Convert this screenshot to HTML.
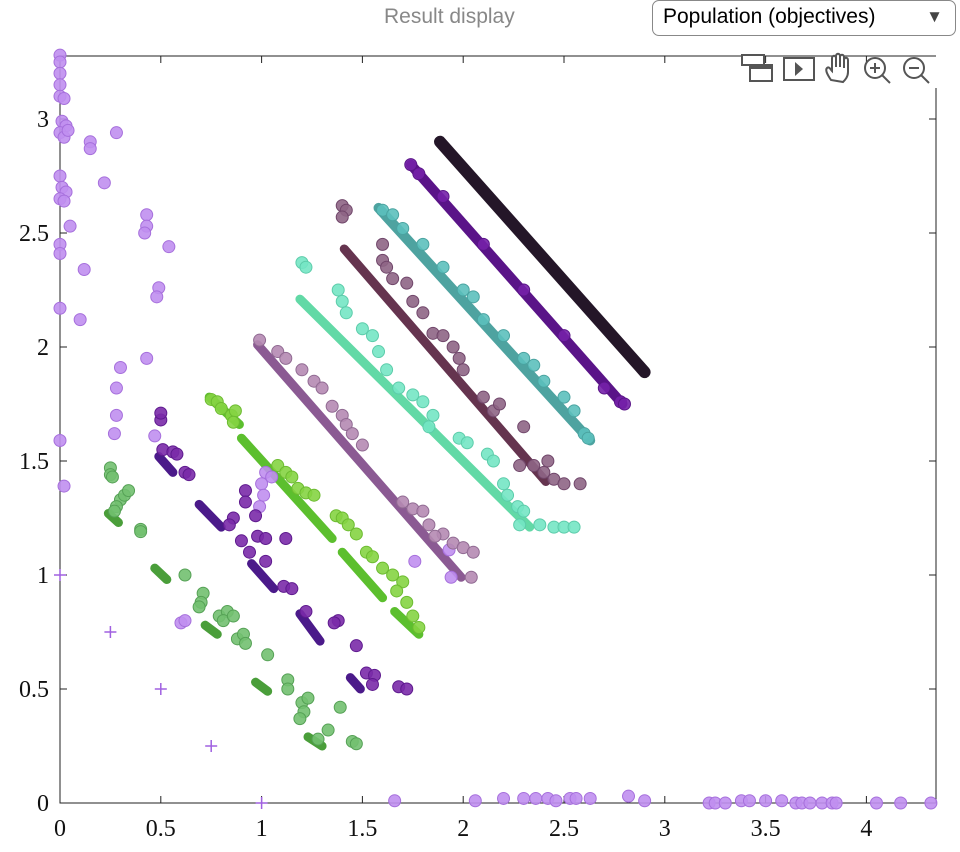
<!DOCTYPE html>
<html><head><meta charset="utf-8"><style>
body{margin:0;background:#fff;width:960px;height:852px;overflow:hidden;font-family:"Liberation Sans",sans-serif}
#title{position:absolute;left:384px;top:5px;font-size:21px;color:#888}
#dd{position:absolute;left:652px;top:0;width:304px;height:36px;border:1px solid #888;border-radius:7px;box-sizing:border-box;font-size:21px;padding:4px 0 0 10px;color:#000}
#dd span{position:absolute;right:12px;top:6px;font-size:17px;color:#444}
</style></head><body>
<div id="title">Result display</div>
<div id="dd">Population (objectives)<span>▼</span></div>
<svg id="chart" width="960" height="852" style="position:absolute;left:0;top:0"></svg>
<script>
const xTicks=[0,0.5,1,1.5,2,2.5,3,3.5,4];
const xTickLabels=["0","0.5","1","1.5","2","2.5","3","3.5","4"];
const yTicks=[0,0.5,1,1.5,2,2.5,3];
const yTickLabels=["0","0.5","1","1.5","2","2.5","3"];
// line series [x0,y0,x1,y1]
const lineBlack=[[1.885,2.90,2.90,1.89]];
const lineViolet=[[1.74,2.80,2.79,1.75]];
const lineTeal=[[1.58,2.61,2.63,1.59]];
const lineMaroon=[[1.41,2.43,2.41,1.41]];
const lineMint=[[1.19,2.21,2.33,1.21]];
const lineMauve=[[0.98,2.01,1.99,0.99]];
const lineLime=[[0.74,1.78,0.89,1.66],[0.90,1.60,1.35,1.16],[1.40,1.10,1.60,0.90],[1.66,0.84,1.78,0.74]];
const lineIndigo=[[0.49,1.52,0.56,1.45],[0.69,1.31,0.80,1.21],[0.95,1.05,1.06,0.94],[1.19,0.83,1.29,0.71],[1.44,0.55,1.49,0.50]];
const lineGreen=[[0.24,1.27,0.29,1.23],[0.47,1.03,0.53,0.98],[0.72,0.78,0.78,0.74],[0.97,0.53,1.03,0.49],[1.23,0.29,1.30,0.25]];
const ptsLight=[[0,3.28],[0,3.25],[0,3.2],[0,3.15],[0,3.1],[0.02,3.09],[0.01,2.99],[0.03,2.97],[0,2.94],[0.02,2.92],[0.04,2.95],[0,2.75],[0.01,2.7],[0.03,2.68],[0,2.65],[0.02,2.64],[0.05,2.53],[0,2.45],[0,2.41],[0.12,2.34],[0.15,2.9],[0.15,2.87],[0.28,2.94],[0.22,2.72],[0.43,2.58],[0.43,2.53],[0.42,2.5],[0.54,2.44],[0.49,2.26],[0.48,2.22],[0.1,2.12],[0,2.17],[0.3,1.91],[0.28,1.82],[0.43,1.95],[0.28,1.7],[0.27,1.62],[0.47,1.61],[0,1.59],[0.02,1.39],[1.02,1.45],[1.05,1.43],[1.0,1.40],[1.01,1.35],[0.99,1.3],[1.76,1.06],[1.93,1.11],[1.94,0.99],[0.6,0.79],[0.62,0.8],[1.66,0.01],[2.06,0.01],[2.2,0.02],[2.3,0.02],[2.36,0.02],[2.42,0.02],[2.46,0.01],[2.53,0.02],[2.56,0.02],[2.63,0.02],[2.82,0.03],[2.9,0.01],[3.22,0],[3.25,0],[3.3,0],[3.38,0.01],[3.42,0.01],[3.5,0.01],[3.58,0.01],[3.65,0],[3.68,0],[3.72,0],[3.78,0],[3.83,0],[3.85,0],[4.05,0],[4.17,0],[4.32,0]];
const ptsPlus=[[0,1],[0.25,0.75],[0.5,0.5],[0.75,0.25],[1,0]];
const ptsLime=[[0.75,1.77],[0.78,1.76],[0.8,1.73],[0.85,1.7],[0.87,1.72],[0.86,1.67],[1.08,1.48],[1.12,1.45],[1.15,1.43],[1.18,1.38],[1.22,1.36],[1.26,1.35],[1.37,1.26],[1.4,1.25],[1.43,1.22],[1.47,1.18],[1.52,1.1],[1.55,1.08],[1.6,1.03],[1.65,1.0],[1.7,0.97],[1.67,0.93],[1.72,0.88],[1.75,0.82],[1.78,0.77]];
const ptsIndigo=[[0.5,1.68],[0.5,1.71],[0.51,1.55],[0.56,1.54],[0.58,1.53],[0.62,1.45],[0.64,1.44],[0.92,1.37],[0.92,1.32],[0.97,1.26],[0.86,1.25],[0.84,1.22],[0.9,1.15],[0.98,1.17],[1.02,1.16],[1.12,1.16],[0.94,1.1],[1.02,1.06],[1.11,0.95],[1.15,0.94],[1.22,0.84],[1.38,0.8],[1.36,0.79],[1.47,0.69],[1.52,0.57],[1.56,0.56],[1.55,0.52],[1.68,0.51],[1.72,0.5]];
const ptsGreen=[[0.25,1.47],[0.25,1.44],[0.26,1.43],[0.3,1.33],[0.32,1.35],[0.34,1.37],[0.28,1.3],[0.27,1.28],[0.4,1.2],[0.4,1.19],[0.62,1.0],[0.71,0.92],[0.7,0.88],[0.69,0.86],[0.79,0.82],[0.83,0.84],[0.81,0.8],[0.86,0.82],[0.88,0.72],[0.91,0.74],[0.92,0.7],[1.03,0.65],[1.13,0.54],[1.13,0.5],[1.2,0.44],[1.23,0.46],[1.21,0.4],[1.19,0.37],[1.33,0.32],[1.39,0.42],[1.45,0.27],[1.47,0.26],[1.28,0.28]];
const ptsMauve=[[0.99,2.03],[1.08,1.98],[1.12,1.95],[1.2,1.9],[1.26,1.85],[1.3,1.82],[1.35,1.74],[1.4,1.7],[1.42,1.66],[1.45,1.62],[1.5,1.57],[1.7,1.32],[1.75,1.29],[1.8,1.28],[1.83,1.22],[1.9,1.18],[1.95,1.14],[2.0,1.12],[2.05,1.1],[1.86,1.17],[2.04,0.99]];
const ptsMint=[[1.2,2.37],[1.22,2.35],[1.38,2.25],[1.4,2.2],[1.42,2.15],[1.5,2.08],[1.55,2.05],[1.58,1.98],[1.62,1.9],[1.68,1.82],[1.75,1.79],[1.8,1.76],[1.85,1.7],[1.83,1.65],[1.98,1.6],[2.02,1.58],[2.12,1.53],[2.15,1.5],[2.2,1.4],[2.22,1.35],[2.27,1.3],[2.3,1.28],[2.28,1.22],[2.38,1.22],[2.45,1.21],[2.5,1.21],[2.55,1.21]];
const ptsMaroon=[[1.4,2.62],[1.42,2.6],[1.4,2.57],[1.6,2.45],[1.6,2.38],[1.62,2.35],[1.65,2.3],[1.72,2.28],[1.75,2.2],[1.8,2.15],[1.85,2.06],[1.9,2.05],[1.95,2.0],[1.98,1.95],[2.0,1.9],[2.1,1.78],[2.15,1.72],[2.18,1.75],[2.3,1.65],[2.28,1.48],[2.35,1.48],[2.4,1.45],[2.45,1.42],[2.5,1.4],[2.58,1.4],[2.42,1.5]];
const ptsTeal=[[1.6,2.6],[1.65,2.58],[1.7,2.52],[1.8,2.45],[1.9,2.35],[2.0,2.25],[2.05,2.22],[2.1,2.12],[2.2,2.05],[2.3,1.95],[2.35,1.92],[2.4,1.85],[2.5,1.78],[2.55,1.72],[2.6,1.62],[2.62,1.6]];
const ptsViolet=[[1.74,2.8],[1.78,2.76],[1.9,2.66],[2.1,2.45],[2.3,2.25],[2.5,2.05],[2.7,1.82],[2.78,1.76],[2.8,1.75]];

const L=60,R=936,T=56,B=803;
const sx=v=>L+v*201.6, sy=v=>803-v*228;
const svg=document.getElementById('chart');const NS='http://www.w3.org/2000/svg';
function mk(t,a){const e=document.createElementNS(NS,t);for(const k in a)e.setAttribute(k,a[k]);svg.appendChild(e);return e;}
let e;
e=mk('path',{d:`M${L},${T}H${R}M${L},${T}V${B}H${R}V88`,stroke:'#222',fill:'none','stroke-width':1});


xTicks.forEach((v,i)=>{const x=sx(v);
 e=mk('path',{d:`M${x},${B}v-7M${x},${T}v7`,stroke:'#222'});
 
 
 e=mk('text',{x:x,y:B+33,'text-anchor':'middle','font-size':24,'font-family':'Liberation Serif, serif',fill:'#111'});e.textContent=xTickLabels[i];
 
 });
yTicks.forEach((v,i)=>{const y=sy(v);
 e=mk('path',{d:`M${L},${y}h7M${R},${y}h-7`,stroke:'#222'});
 
 
 e=mk('text',{x:L-11,y:y+8,'text-anchor':'end','font-size':24,'font-family':'Liberation Serif, serif',fill:'#111'});e.textContent=yTickLabels[i];
 
 });
function lines(arr,col,w,name){arr.forEach(s=>{e=mk('line',{x1:sx(s[0]),y1:sy(s[1]),x2:sx(s[2]),y2:sy(s[3]),stroke:col,'stroke-width':w,'stroke-linecap':'round'});
 
 });}
function dots(arr,fill,stroke,name){arr.forEach(p=>{e=mk('circle',{cx:sx(p[0]),cy:sy(p[1]),r:6,fill:fill,stroke:stroke,'stroke-width':1,'fill-opacity':0.9});
 
 });}
lines(lineMauve,'#8b5a93',9,'mauve-front-line');
lines(lineMint,'#62d9a6',9,'mint-front-line');
lines(lineMaroon,'#65344f',9,'maroon-front-line');
lines(lineTeal,'#4ea3a0',10,'teal-front-line');
lines(lineViolet,'#5a1488',10,'violet-front-line');
lines(lineBlack,'#241628',12,'black-front-line');
lines(lineLime,'#5cbf2e',9,'lime-front-line');
lines(lineIndigo,'#4b1a8a',9,'indigo-front-line');
lines(lineGreen,'#4a9e3a',9,'green-front-line');
dots(ptsLight,'#c08ff0','#a66fdc','light-purple-point');
dots(ptsLime,'#85d442','#6cbb30','lime-point');
dots(ptsIndigo,'#7a2aa8','#5e1a8e','indigo-point');
dots(ptsGreen,'#72c070','#55a155','green-point');
dots(ptsMauve,'#b58ab3','#906a92','mauve-point');
dots(ptsMint,'#74e6c4','#5cccaa','mint-point');
dots(ptsMaroon,'#8e6585','#70466a','maroon-point');
dots(ptsTeal,'#5cc0bc','#4aa3a0','teal-point');
dots(ptsViolet,'#7420a8','#5a1488','violet-point');
ptsPlus.forEach(p=>{const x=sx(p[0]),y=sy(p[1]);e=mk('path',{d:`M${x-6},${y}h12M${x},${y-6}v12`,stroke:'#a060e0','stroke-width':1.5});
 
 });
// toolbar
const tb=[[742,'restore-view-button'],[784,'play-button'],[823,'pan-button'],[862,'zoom-in-button'],[901,'zoom-out-button']];
tb.forEach(t=>{const g=document.createElementNS(NS,'g');g.setAttribute('transform',`translate(${t[0]},52)`);svg.appendChild(g);
 
 
 let s='';
 if(t[1]=='restore-view-button')s='<rect x="0" y="3" width="22" height="10" fill="#fff" stroke="#555" stroke-width="2"/><rect x="8" y="13" width="22" height="16" fill="#fff" stroke="#555" stroke-width="2"/><rect x="8" y="13" width="22" height="4" fill="#555"/>';
 if(t[1]=='play-button')s='<rect x="0" y="6" width="30" height="22" fill="none" stroke="#555" stroke-width="2"/><path d="M11,10 l8,7 l-8,7z" fill="#555"/>';
 if(t[1]=='pan-button')s='<path d="M8,28 C4,22 2,18 4,16 C6,14 8,18 9,19 L9,6 C9,3 13,3 13,6 L13,15 L13,4 C13,1 17,1 17,4 L17,15 L17,5 C17,2 21,2 21,5 L21,16 L21,8 C21,5 25,5 25,8 L25,20 C25,25 22,28 20,30 Z" fill="#fff" stroke="#555" stroke-width="2"/>';
 if(t[1]=='zoom-in-button')s='<circle cx="13" cy="16" r="10" fill="none" stroke="#555" stroke-width="2"/><path d="M8,16h10M13,11v10M20,23l8,8" stroke="#555" stroke-width="2"/>';
 if(t[1]=='zoom-out-button')s='<circle cx="13" cy="16" r="10" fill="none" stroke="#555" stroke-width="2"/><path d="M8,16h10M20,23l8,8" stroke="#555" stroke-width="2"/>';
 g.innerHTML=s;});
</script>
</body></html>
